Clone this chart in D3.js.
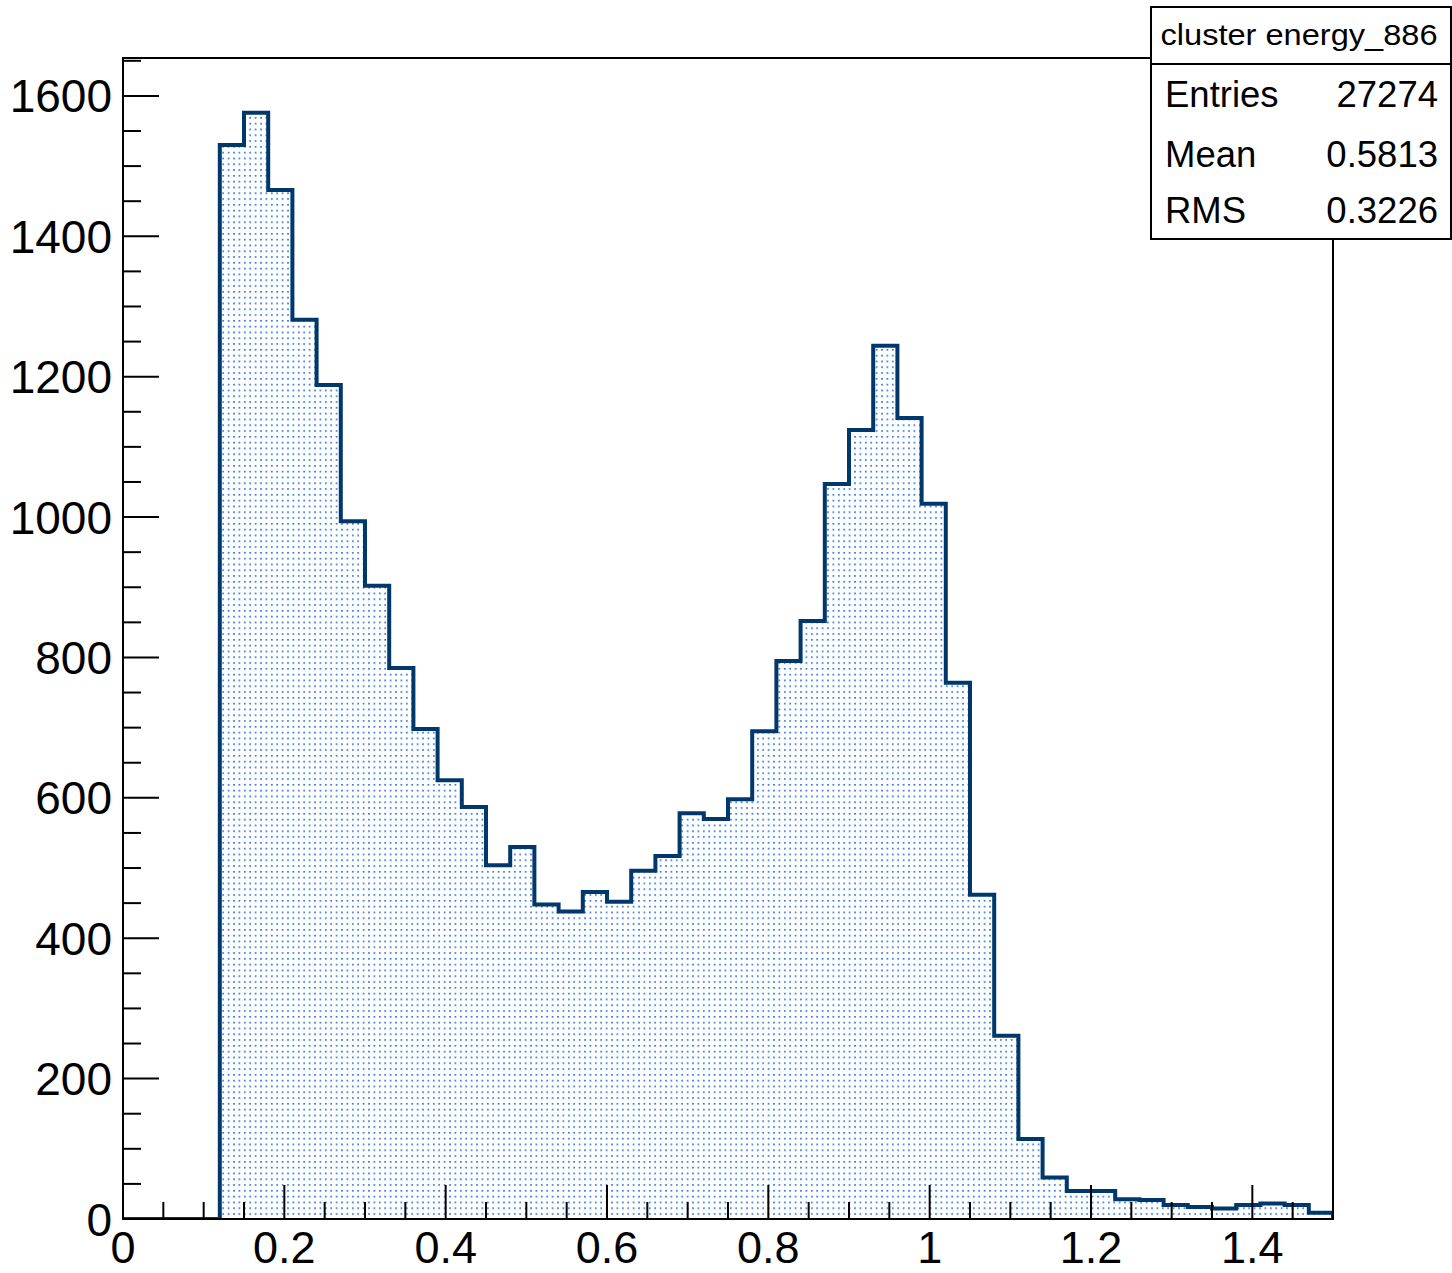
<!DOCTYPE html>
<html><head><meta charset="utf-8">
<script src="https://cdn.jsdelivr.net/npm/d3@7"></script>
<style>
body{margin:0;background:#fff}
svg{display:block}
text{font-family:"Liberation Sans",Arial,Helvetica,sans-serif;fill:#000}
</style>
</head><body>
<svg id="c" width="1452" height="1273"></svg>
<script>
// ---- data ----
const binStart = 0;
const binWidth = 0.03;
const counts = [0,0,0,0,1530,1576,1466,1281,1188,994,902,785,698,625,587,504,530,448,438,466,452,496,517,578,570,598,695,795,852,1047,1124,1244,1141,1019,764,462,261,114,59,40,40,28,27,20,17,15,20,22,20,9];
const xTicksMajor = [0,0.2,0.4,0.6,0.8,1,1.2,1.4];
const xTickLabels = ["0","0.2","0.4","0.6","0.8","1","1.2","1.4"];
const yTicksMajor = [0,200,400,600,800,1000,1200,1400,1600];
const yTickLabels = ["0","200","400","600","800","1000","1200","1400","1600"];
const statTitle = "cluster energy_886";
const statNames = ["Entries","Mean","RMS"];
const statValues = ["27274","0.5813","0.3226"];

// ---- layout ----
const L=123,R=1333,T=58,B=1219;
const x = d3.scaleLinear().domain([0,1.5]).range([L,R]);
const y = d3.scaleLinear().domain([0,1654]).range([B,T]);
const svg = d3.select("#c");

const defs = svg.append("defs");
const pat = defs.append("pattern").attr("id","dots").attr("patternUnits","userSpaceOnUse")
  .attr("width",5.4).attr("height",5.8);
pat.append("rect").attr("x",1).attr("y",1).attr("width",1.6).attr("height",1.6).attr("fill","#1469e0");
defs.append("clipPath").attr("id","clip").append("rect").attr("x",L).attr("y",T).attr("width",R-L).attr("height",B-T);

// step points
const pts = [[binStart,0]];
counts.forEach((c,i)=>{
  const e0 = binStart + i*binWidth, e1 = binStart + (i+1)*binWidth;
  pts.push([e0,c]); pts.push([e1,c]);
});
pts.push([binStart+counts.length*binWidth,0]);
const line = d3.line().x(d=>x(d[0])).y(d=>y(d[1]));

const g = svg.append("g").attr("clip-path","url(#clip)");
g.append("path").attr("d",line(pts)+"Z").attr("fill","url(#dots)").attr("stroke","none");
g.append("path").attr("d",line(pts)).attr("fill","none").attr("stroke","#01386b").attr("stroke-width",4).attr("stroke-linejoin","miter");

// frame
svg.append("rect").attr("x",L).attr("y",T).attr("width",R-L).attr("height",B-T)
  .attr("fill","none").attr("stroke","#000").attr("stroke-width",2);

// ticks
const tk = svg.append("g").attr("stroke","#000").attr("stroke-width",2);
const yMinor = d3.range(0,1654,50);
tk.selectAll(".ym").data(yMinor).join("line")
  .attr("x1",L).attr("x2",d=>L+(d%200===0?36:18))
  .attr("y1",d=>y(d)).attr("y2",d=>y(d));
const xMinor = d3.range(0,31).map(i=>i*0.05);
tk.selectAll(".xm").data(xMinor).join("line")
  .attr("x1",d=>x(d)).attr("x2",d=>x(d))
  .attr("y1",B).attr("y2",(d,i)=>B-(i%4===0?34:17));

// labels
svg.selectAll(".yl").data(yTicksMajor).join("text")
  .attr("x",112).attr("y",d=>y(d)+16.5).attr("text-anchor","end")
  .attr("font-size",46).text((d,i)=>yTickLabels[i]);
svg.selectAll(".xl").data(xTicksMajor).join("text")
  .attr("x",d=>x(d)).attr("y",1263).attr("text-anchor","middle")
  .attr("font-size",45).text((d,i)=>xTickLabels[i]);

// stats box
const sb = svg.append("g");
sb.append("rect").attr("x",1151).attr("y",7).attr("width",300).attr("height",232)
  .attr("fill","#fff").attr("stroke","#000").attr("stroke-width",2);
sb.append("line").attr("x1",1151).attr("x2",1452).attr("y1",64).attr("y2",64).attr("stroke","#000").attr("stroke-width",2);
sb.append("text").attr("x",1160.5).attr("y",45).attr("font-size",30)
  .attr("textLength",277).attr("lengthAdjust","spacingAndGlyphs").text(statTitle);
const rowY = [107,167,223];
sb.selectAll(".sn").data(statNames).join("text")
  .attr("x",1165).attr("y",(d,i)=>rowY[i]).attr("font-size",36.5).text(d=>d);
sb.selectAll(".sv").data(statValues).join("text")
  .attr("x",1438).attr("y",(d,i)=>rowY[i]).attr("font-size",36.5).attr("text-anchor","end").text(d=>d);
</script>
</body></html>
